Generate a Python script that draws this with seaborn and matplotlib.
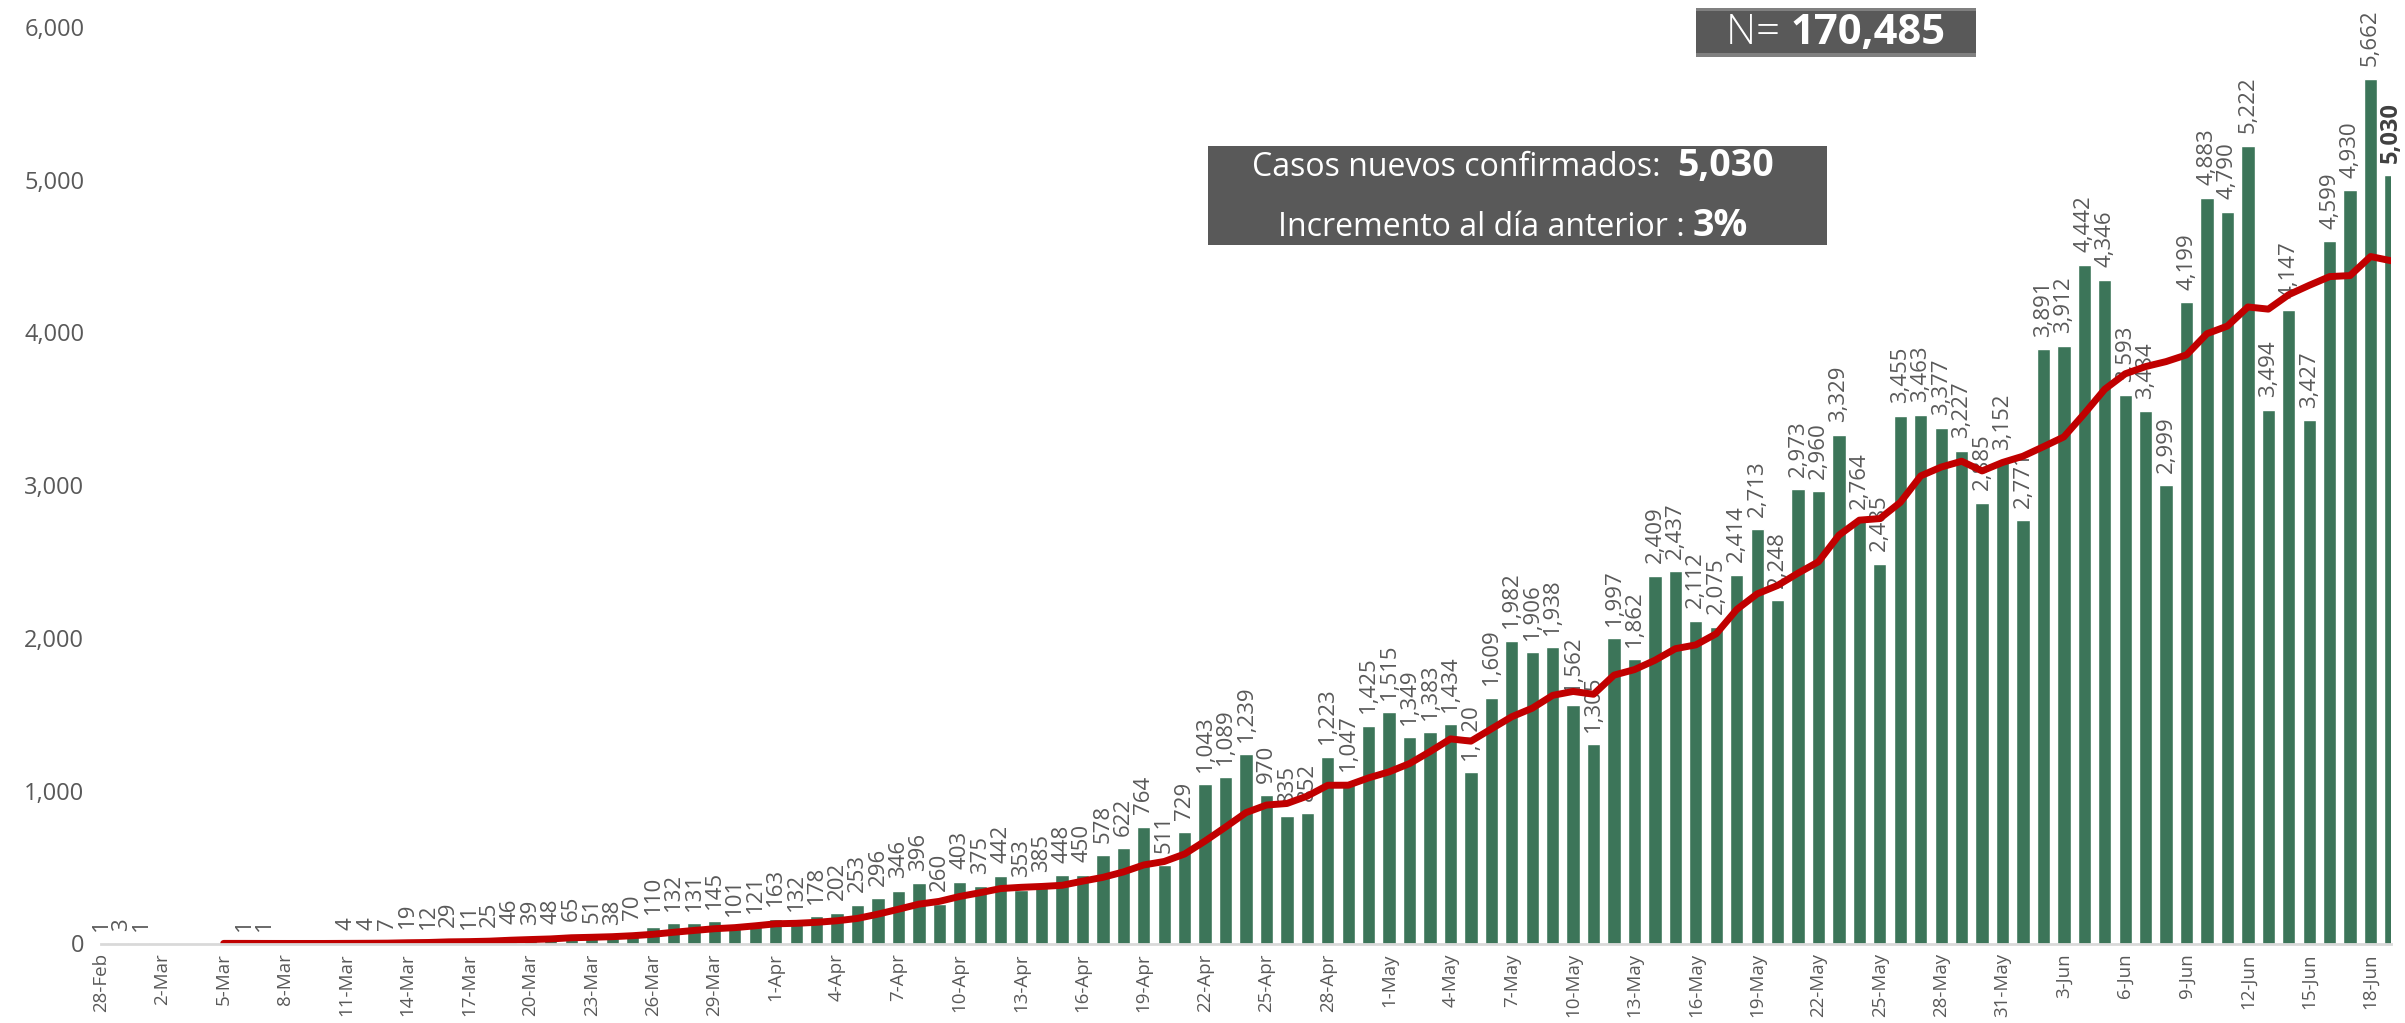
import pandas as pd
import matplotlib.pyplot as plt
import seaborn as sns
from matplotlib.patches import Rectangle
from matplotlib.offsetbox import TextArea, HPacker, AnnotationBbox

W, H = 2405, 1023

casos_feb_mar = [1, 3, 1, 0, 0, 0, 0, 1, 1, 0, 0, 0,
                 4, 4, 7, 19, 12, 29, 11, 25, 46, 39, 48, 65, 51, 38, 70, 110, 132, 131, 145, 101, 121]
casos_abr = [163, 132, 178, 202, 253, 296, 346, 396, 260, 403, 375, 442, 353, 385, 448,
             450, 578, 622, 764, 511, 729, 1043, 1089, 1239, 970, 835, 852, 1223, 1047, 1425]
casos_may = [1515, 1349, 1383, 1434, 1120, 1609, 1982, 1906, 1938, 1562, 1305, 1997, 1862, 2409, 2437, 2112,
             2075, 2414, 2713, 2248, 2973, 2960, 3329, 2764, 2485, 3455, 3463, 3377, 3227, 2885, 3152]
casos_jun = [2771, 3891, 3912, 4442, 4346, 3593, 3484, 2999, 4199, 4883, 4790, 5222, 3494, 4147,
             3427, 4599, 4930, 5662, 5030]

casos = casos_feb_mar + casos_abr + casos_may + casos_jun
fechas = pd.date_range("2020-02-28", periods=len(casos), freq="D")
etiquetas = [f"{d.day}-{d.strftime('%b')}" for d in fechas]

total_txt = "170,485"
nuevos_txt = "5,030"
incremento_txt = "3%"

df = pd.DataFrame({"dia": range(len(casos)), "casos": casos})
df["promedio"] = df["casos"].rolling(7).mean()

verde = "#3c7559"
rojo = "#c00000"
gris = "#595959"

sns.set_style("white")
plt.rcParams["font.family"] = ["Open Sans", "DejaVu Sans"]

fig = plt.figure(figsize=(W / 100, H / 100), dpi=100)
ax = fig.add_axes([101 / W, 1 - 943.5 / H, (2391 - 101) / W, (943.5 - 27) / H])

sns.barplot(data=df, x="dia", y="casos", color=verde, saturation=1, width=0.65,
            ax=ax, zorder=2)
sns.lineplot(data=df, x="dia", y="promedio", color=rojo, linewidth=5, ax=ax, zorder=3)

# etiquetas de valor sobre cada barra
for i, v in enumerate(casos):
    if v == 0:
        continue
    ultimo = i == len(casos) - 1
    ax.annotate(f"{v:,}", (i, v), xytext=(0, 9), textcoords="offset points",
                rotation=90, ha="center", va="bottom",
                fontsize=17 if ultimo else 16,
                fontweight="bold" if ultimo else "normal",
                color="#404040" if ultimo else gris,
                zorder=1, annotation_clip=False)

ax.set_xlim(0, len(casos) - 1)
ax.set_ylim(0, 6000)
ax.set_xticks(range(0, len(casos), 3))
ax.set_xticklabels(etiquetas[::3])
ax.set_yticks(range(0, 6001, 1000))
ax.set_yticklabels([f"{t:,}" for t in range(0, 6001, 1000)])
ax.set_xlabel("")
ax.set_ylabel("")

ax.tick_params(axis="x", length=4, width=1.5, color="#d9d9d9", labelrotation=90,
               labelsize=13.5, labelcolor=gris, pad=3)
ax.tick_params(axis="y", length=0, labelsize=17, labelcolor=gris, pad=12)
for s in ["top", "right", "left"]:
    ax.spines[s].set_visible(False)
ax.spines["bottom"].set_color("#d9d9d9")
ax.spines["bottom"].set_linewidth(2)
ax.spines["bottom"].set_zorder(4)


def caja(x0, y0, x1, y1, color):
    fig.add_artist(Rectangle((x0 / W, 1 - y1 / H), (x1 - x0) / W, (y1 - y0) / H,
                             transform=fig.transFigure, facecolor=color,
                             edgecolor="none", zorder=5))


def linea(partes, cx, cy):
    hijos = [TextArea(t, textprops=dict(color="white", fontsize=fs, fontweight=fw))
             for t, fs, fw in partes]
    box = HPacker(children=hijos, align="baseline", pad=0, sep=0)
    ab = AnnotationBbox(box, (cx / W, 1 - cy / H), xycoords="figure fraction",
                        box_alignment=(0.5, 0.5), frameon=False, zorder=6)
    fig.add_artist(ab)


# recuadro N
caja(1696, 8, 1976, 57, "#808080")
caja(1696, 11, 1976, 53, gris)
linea([("N= ", 30, "light"), (total_txt, 30, "bold")], 1836, 33)

# recuadro casos nuevos
caja(1208, 146, 1827, 245, gris)
linea([("Casos nuevos confirmados:  ", 23, "normal"), (nuevos_txt, 27, "bold")], 1513, 166)
linea([("Incremento al día anterior : ", 23, "normal"), (incremento_txt, 27, "bold")], 1513, 226)

fig.savefig("out.png", dpi=100)
